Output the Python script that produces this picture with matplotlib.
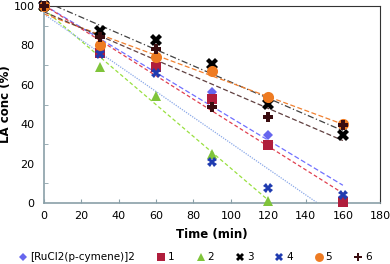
import numpy as np
import matplotlib
matplotlib.use("Agg")
import matplotlib.pyplot as plt
from matplotlib.lines import Line2D

time = [0, 30, 60, 90, 120, 160]
labels = ["[RuCl2(p-cymene)]2", "1", "2", "3", "4", "5", "6"]
s_ru = [100, 77, 69, 56.5, 34.5, 3]
s_1 = [100, 76, 69, 53, 29.5, 0.5]
s_2 = [100, 69, 54.5, 25, 1]
s_3 = [100, 87.5, 83, 70.5, 50.5, 34.5]
s_4 = [100, 75.5, 66, 21, 7.5, 4]
s_5 = [100, 80, 74, 67, 54, 40]
s_6 = [100, 84.5, 78, 49, 43.5, 39.5]
series = [s_ru, s_1, s_2, s_3, s_4, s_5, s_6]

colors = ["#6666ee", "#b01e3c", "#7fc43a", "#000000", "#1f3bb0", "#ee7b22", "#3a0d10"]
markers = ["D", "s", "^", "X", "X", "o", "P"]
msizes = [5, 7, 7, 8, 7, 8, 7]
line_styles = [(0, (4, 2)), (0, (3, 2)), (0, (3, 2)), (0, (5, 2, 1, 2)), (0, (1, 1)), (0, (4, 2)), (0, (4, 2))]
line_colors = ["#7070ff", "#e04050", "#99e040", "#404040", "#8aa8e8", "#f08030", "#604040"]

fig = plt.figure(figsize=(3.9, 2.64), dpi=100)
ax = fig.add_axes([0.113, 0.231, 0.862, 0.746])

for ys, c, m, ms, ls, lc in zip(series, colors, markers, msizes, line_styles, line_colors):
    xs = np.array(time[:len(ys)], dtype=float)
    ya = np.array(ys, dtype=float)
    k, b = np.polyfit(xs, ya, 1)
    xl = np.linspace(0, xs.max(), 200)
    ax.plot(xl, k * xl + b, color=lc, lw=0.9, ls=ls, zorder=2)
for ys, c, m, ms in zip(series, colors, markers, msizes):
    xs = time[:len(ys)]
    ax.plot(xs, ys, ls="none", marker=m, color=c, markersize=ms, markeredgewidth=0, zorder=3,
            clip_on=False)

ax.set_xlim(0, 180)
ax.set_ylim(0, 100)
ax.set_xticks(range(0, 181, 20))
ax.set_yticks(range(0, 101, 20))
ax.set_yticks(range(10, 100, 20), minor=True)
ax.tick_params(axis="both", labelsize=8, length=3, direction="in", color="#8aa0a8", pad=6)
ax.tick_params(axis="y", which="minor", length=3, direction="in", color="#8aa0a8")
ax.tick_params(axis="y", which="major", length=0, pad=7)
ax.spines["left"].set_color("#8aa0a8")
ax.spines["left"].set_linewidth(1.2)
ax.spines["bottom"].set_color("#8aa0a8")
ax.spines["bottom"].set_linewidth(1.2)
ax.spines["top"].set_color("#333333")
ax.spines["right"].set_color("#333333")
ax.set_xlabel("Time (min)", fontsize=8.5, fontweight="bold", labelpad=5)
ax.set_ylabel("LA conc (%)", fontsize=8.5, fontweight="bold", labelpad=1)

handles = [Line2D([], [], ls="none", marker=m, color=c, markersize=ms * 0.8, markeredgewidth=0)
           for c, m, ms in zip(colors, markers, msizes)]
fig.legend(handles, labels, loc="center", bbox_to_anchor=(0.5, 0.025), ncol=7, frameon=False,
           fontsize=7.5, handletextpad=0.15, columnspacing=2.0, handlelength=1.0)

fig.savefig("out.png", dpi=100)
